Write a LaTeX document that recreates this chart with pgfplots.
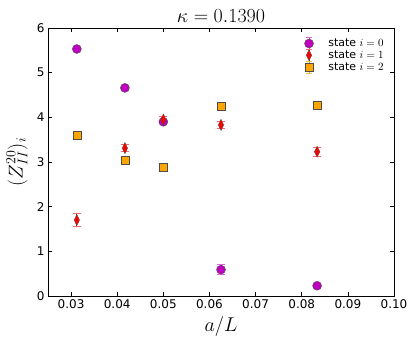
\RequirePackage{fix-cm}
\documentclass[border=0pt]{standalone}
\usepackage{fontspec}
\setmainfont{DejaVu Sans}
\usepackage{pgfplots}
\pgfplotsset{compat=1.18}
\definecolor{mpurple}{HTML}{BF00BF}
\definecolor{morange}{HTML}{FFA500}
\definecolor{mred}{HTML}{FF0000}

\begin{document}
\begin{tikzpicture}
\begin{axis}[
  name=ax,
  scale only axis, width=346pt, height=268pt,
  xmin=0.025, xmax=0.10, ymin=0, ymax=6,
  xtick={0.03,0.04,0.05,0.06,0.07,0.08,0.09,0.10},
  ytick={0,1,2,3,4,5,6},
  tick align=inside, major tick length=4pt,
  tick style={black, line width=0.6pt},
  axis line style={line width=0.8pt},
  xticklabel style={/pgf/number format/.cd, fixed, fixed zerofill, precision=2, assume math mode=true},
  yticklabel style={/pgf/number format/.cd, fixed, precision=0, assume math mode=true},
  ticklabel style={font=\fontsize{12}{14}\selectfont},
  title={$\kappa=0.1390$},
  title style={font=\fontsize{20}{24}\selectfont, at={(0.5,1)}, anchor=base, yshift=-0.5pt},
  xlabel={$a/L$}, ylabel={$(Z^{20}_{II})_i$},
  label style={font=\fontsize{20}{24}\selectfont},
  xlabel style={at={(0.5,0)}, anchor=base, yshift=-35.5pt},
  ylabel style={at={(-0.09,0.5)}, anchor=center},
  legend style={draw=none, fill=none, at={(0.985,0.975)}, anchor=north east,
    font=\fontsize{11}{13}\selectfont, row sep=-1.5pt},
  legend cell align=left,
]
\addplot[only marks, mark=*, mark size=4.5pt,
  mark options={fill=mpurple, draw=black!70, line width=0.4pt},
  legend image code/.code={
    \draw[mpurple!70, line width=0.8pt] (0.3cm,-6pt) -- (0.3cm,6pt);
    \draw[mpurple!60, line width=0.8pt] (0.3cm-3pt,-6pt) -- (0.3cm+3pt,-6pt) (0.3cm-3pt,6pt) -- (0.3cm+3pt,6pt);
    \draw[mark=*, mark size=4.5pt, mark options={fill=mpurple, draw=black!70, line width=0.4pt}] plot coordinates {(0.3cm,0cm)};
    \path (0.9cm,0cm);},
  error bars/.cd, y dir=both, y explicit,
  error bar style={mpurple!80, line width=0.8pt},
  error mark options={rotate=90, mpurple!60, mark size=4pt, line width=0.8pt}]
  coordinates {
  (0.03125,5.53) +- (0,0.03)
  (0.041667,4.66) +- (0,0.03)
  (0.05,3.90) +- (0,0.04)
  (0.0625,0.59) +- (0,0.11)
  (0.083333,0.23) +- (0,0.04)
  };
\addlegendentry{state $i=0$}
\addplot[only marks, mark=diamond*, mark size=5.5pt,
  mark options={xscale=0.65, fill=mred, draw=black!70, line width=0.4pt},
  legend image code/.code={
    \draw[black!80, line width=0.8pt] (0.3cm,-6pt) -- (0.3cm,6pt);
    \draw[mred!60, line width=0.8pt] (0.3cm-3pt,-6pt) -- (0.3cm+3pt,-6pt) (0.3cm-3pt,6pt) -- (0.3cm+3pt,6pt);
    \draw[mark=diamond*, mark size=5.5pt, mark options={xscale=0.65, fill=mred, draw=black!70, line width=0.4pt}] plot coordinates {(0.3cm,0cm)};
    \path (0.9cm,0cm);},
  error bars/.cd, y dir=both, y explicit,
  error bar style={black!80, line width=0.8pt},
  error mark options={rotate=90, mred!60, mark size=4pt, line width=0.8pt}]
  coordinates {
  (0.03125,1.70) +- (0,0.14)
  (0.041667,3.31) +- (0,0.08)
  (0.05,3.95) +- (0,0.06)
  (0.0625,3.83) +- (0,0.07)
  (0.083333,3.23) +- (0,0.10)
  };
\addlegendentry{state $i=1$}
\addplot[only marks, mark=square*, mark size=4pt,
  mark options={fill=morange, draw=black!70, line width=0.4pt},
  legend image code/.code={
    \draw[morange, line width=0.8pt] (0.3cm,-6pt) -- (0.3cm,6pt);
    \draw[morange!70, line width=0.8pt] (0.3cm-3pt,-6pt) -- (0.3cm+3pt,-6pt) (0.3cm-3pt,6pt) -- (0.3cm+3pt,6pt);
    \draw[mark=square*, mark size=4pt, mark options={fill=morange, draw=black!70, line width=0.4pt}] plot coordinates {(0.3cm,0cm)};
    \path (0.9cm,0cm);},
  error bars/.cd, y dir=both, y explicit,
  error bar style={morange, line width=0.8pt},
  error mark options={rotate=90, morange!70, mark size=4pt, line width=0.8pt}]
  coordinates {
  (0.03125,3.60) +- (0,0.03)
  (0.041667,3.04) +- (0,0.03)
  (0.05,2.89) +- (0,0.03)
  (0.0625,4.26) +- (0,0.03)
  (0.083333,4.27) +- (0,0.03)
  };
\addlegendentry{state $i=2$}
\end{axis}
\pgfresetboundingbox
\path ([xshift=-48pt,yshift=-50pt]ax.south west) rectangle ([xshift=22pt,yshift=28pt]ax.north east);
\end{tikzpicture}
\end{document}
